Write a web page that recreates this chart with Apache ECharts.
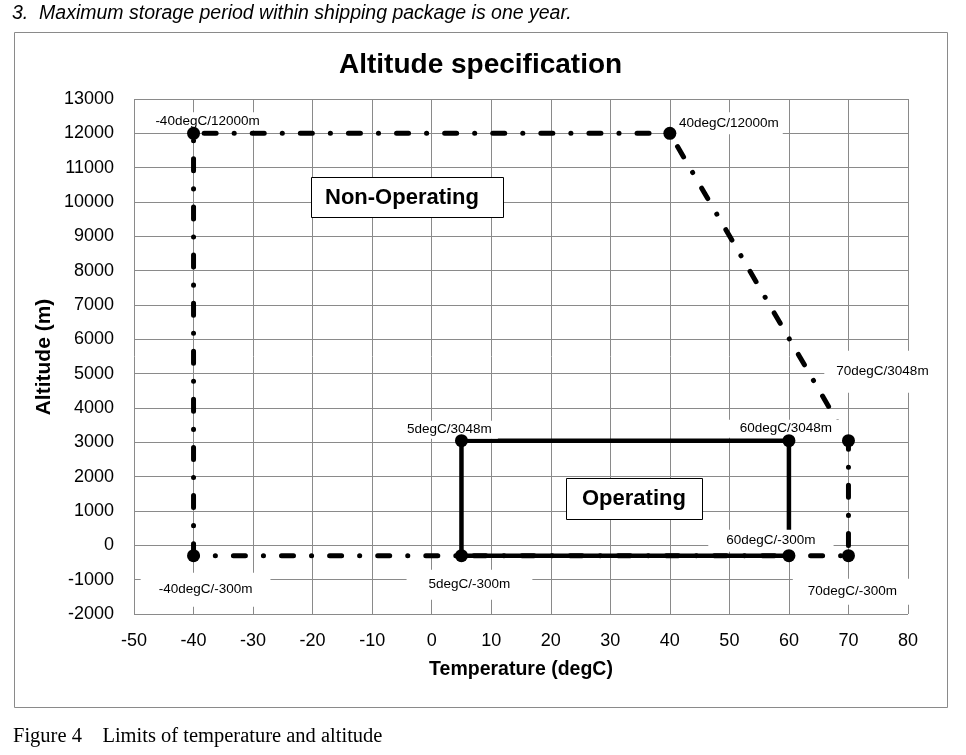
<!DOCTYPE html>
<html>
<head>
<meta charset="utf-8">
<script src="https://cdn.jsdelivr.net/npm/echarts@6/dist/echarts.min.js"></script>
<style>
  html, body { margin: 0; padding: 0; background: #fff; }
  #chart { width: 966px; height: 755px; }
</style>
</head>
<body>
<div id="chart"></div>
<script>
// data
const nonOpTemp = [-40, -40, 40, 70, 70, -40];
const nonOpAlt = [-300, 12000, 12000, 3048, -300, -300];
const opTemp = [5, 5, 60, 60, 5];
const opAlt = [-300, 3048, 3048, -300, -300];
const pointTemp = [-40, 40, 70, 70, -40, 5, 60, 60, 5];
const pointAlt = [12000, 12000, 3048, -300, -300, 3048, 3048, -300, -300];

const FONT = '"Liberation Sans", Arial, sans-serif';

// label placement per vertex (pixel offset from the point, box padding)
const labelStyle = [
  { offset: [14, -12], padding: [2, 6] },
  { offset: [59, -10], padding: [4, 4] },
  { offset: [34, -69], padding: [14, 12] },
  { offset: [4, 36], padding: [6, 15] },
  { offset: [12, 34], padding: [10, 18] },
  { offset: [-12, -11], padding: [2, 6] },
  { offset: [-3, -12], padding: [2, 12] },
  { offset: [-18, -15], padding: [4, 18] },
  { offset: [8, 29], padding: [8, 22] }
];

const zip = (xs, ys) => xs.map((x, i) => [x, ys[i]]);

const chart = echarts.init(document.getElementById('chart'));

chart.setOption({
  backgroundColor: '#fff',
  animation: false,
  title: {
    text: 'Altitude specification',
    left: 334,
    top: 46,
    textStyle: { fontFamily: FONT, fontSize: 28, fontWeight: 'bold', color: '#000' }
  },
  grid: { left: 134, top: 99, width: 774, height: 515, outerBoundsMode: 'none' },
  xAxis: {
    type: 'value',
    min: -50,
    max: 80,
    interval: 10,
    name: 'Temperature (degC)',
    nameLocation: 'middle',
    nameGap: 46,
    nameTextStyle: { fontFamily: FONT, fontSize: 19.5, fontWeight: 'bold', color: '#000' },
    axisLine: { show: false },
    axisTick: { show: false },
    axisLabel: { fontFamily: FONT, fontSize: 18, color: '#000', margin: 18 },
    splitLine: { show: true, lineStyle: { color: '#8a8a8a', width: 1 } }
  },
  yAxis: {
    type: 'value',
    min: -2000,
    max: 13000,
    interval: 1000,
    axisLine: { show: false },
    axisTick: { show: false },
    axisLabel: { fontFamily: FONT, fontSize: 18, color: '#000', margin: 20, formatter: (v) => String(v) },
    splitLine: { show: true, lineStyle: { color: '#8a8a8a', width: 1 } }
  },
  graphic: [
    {
      type: 'rect', z: -10, silent: true,
      shape: { x: 14.5, y: 32.5, width: 933, height: 675 },
      style: { fill: 'none', stroke: '#8a8a8a', lineWidth: 1 }
    },
    {
      type: 'text', x: 12, y: 4, silent: true,
      style: {
        text: '3.  Maximum storage period within shipping package is one year.',
        font: 'italic 19.5px ' + FONT, fill: '#000'
      }
    },
    {
      type: 'text', x: 13, y: 726, silent: true,
      style: {
        text: 'Figure 4    Limits of temperature and altitude',
        font: '20.5px "Liberation Serif", "Times New Roman", serif', fill: '#000'
      }
    },
    {
      type: 'text', x: 44, y: 357, rotation: Math.PI / 2, silent: true,
      style: {
        text: 'Altitude (m)', font: 'bold 21px ' + FONT, fill: '#000',
        align: 'center', verticalAlign: 'middle'
      }
    },
    // annotation boxes
    {
      type: 'rect', z: 30, silent: true,
      shape: { x: 311.5, y: 177.5, width: 192, height: 40 },
      style: { fill: '#fff', stroke: '#000', lineWidth: 1 }
    },
    {
      type: 'text', z: 31, silent: true, x: 325, y: 197.5,
      style: { text: 'Non-Operating', font: 'bold 22px ' + FONT, fill: '#000', verticalAlign: 'middle' }
    },
    {
      type: 'rect', z: 30, silent: true,
      shape: { x: 566.5, y: 478.5, width: 136, height: 41 },
      style: { fill: '#fff', stroke: '#000', lineWidth: 1 }
    },
    {
      type: 'text', z: 31, silent: true, x: 582, y: 499,
      style: { text: 'Operating', font: 'bold 22px ' + FONT, fill: '#000', verticalAlign: 'middle' }
    }
  ],
  series: [
    {
      name: 'Non-Operating',
      type: 'line',
      z: 2,
      symbol: 'none',
      data: zip(nonOpTemp, nonOpAlt),
      lineStyle: { color: '#000', width: 5, type: [12, 18, 0.1, 18], cap: 'round' }
    },
    {
      name: 'Operating',
      type: 'line',
      z: 3,
      symbol: 'none',
      data: zip(opTemp, opAlt),
      lineStyle: { color: '#000', width: 4.5 }
    },
    {
      name: 'labels',
      type: 'scatter',
      z: 10,
      symbolSize: 1,
      itemStyle: { color: 'rgba(0,0,0,0)', opacity: 1 },
      data: zip(pointTemp, pointAlt).map((p, i) => ({
        value: p,
        label: {
          show: true,
          position: 'inside',
          offset: labelStyle[i].offset,
          padding: labelStyle[i].padding,
          backgroundColor: '#fff',
          formatter: (d) => `${d.value[0]}degC/${d.value[1]}m`,
          fontFamily: FONT,
          fontSize: 13.5,
          color: '#000',
          opacity: 1
        }
      }))
    },
    {
      name: 'points',
      type: 'scatter',
      z: 20,
      symbolSize: 13,
      itemStyle: { color: '#000', opacity: 1 },
      data: zip(pointTemp, pointAlt)
    }
  ]
});
</script>
</body>
</html>
